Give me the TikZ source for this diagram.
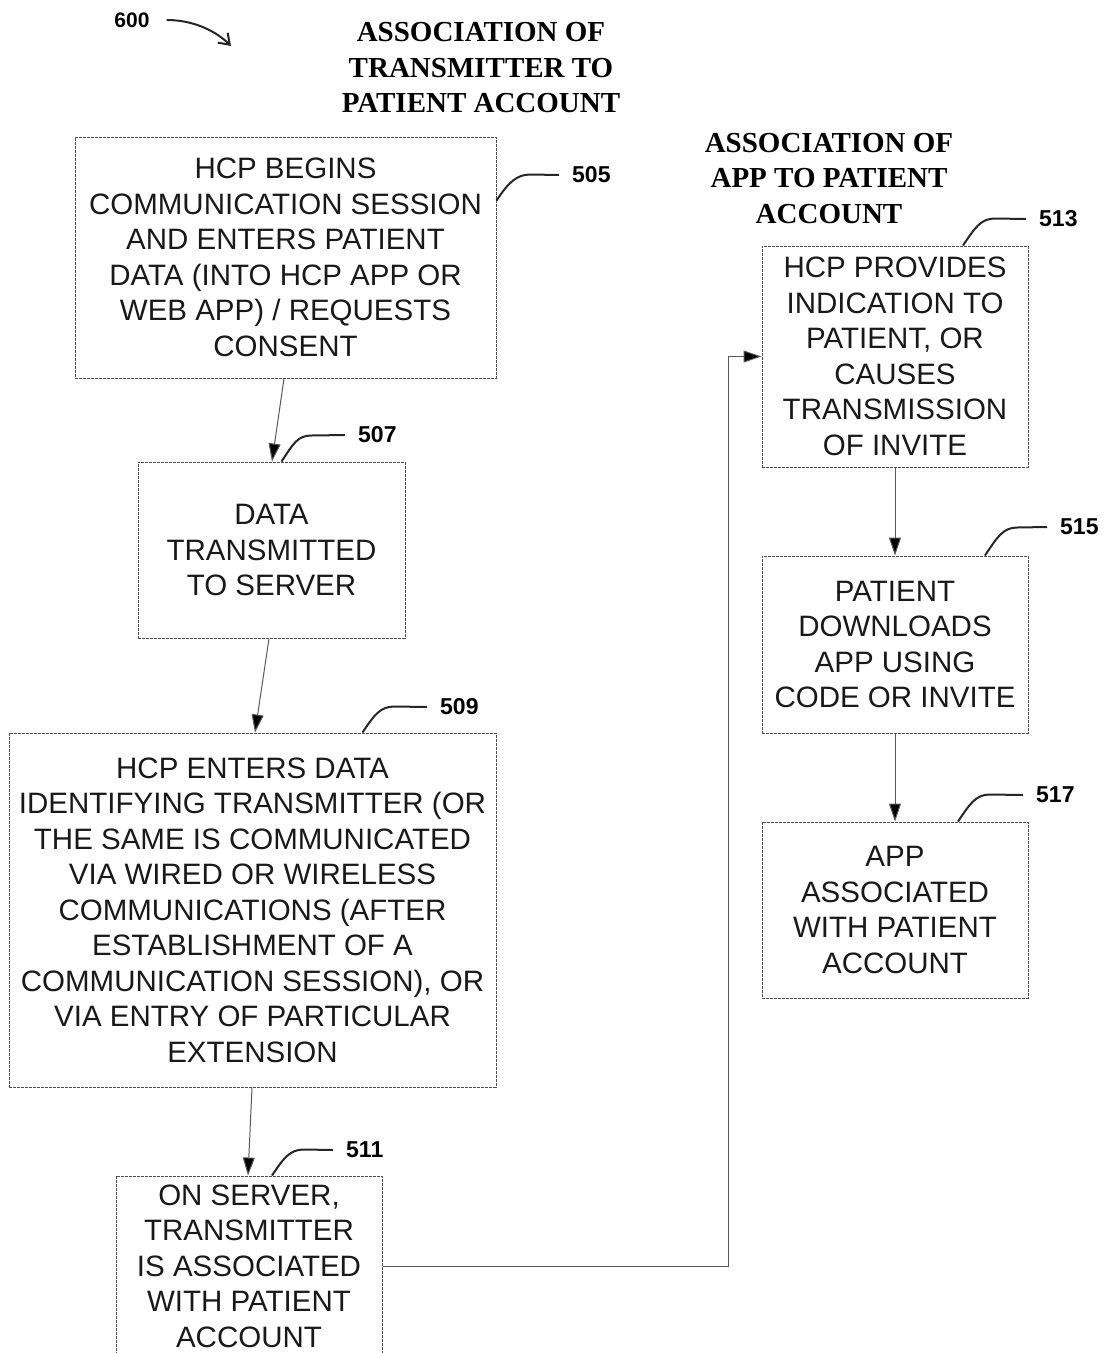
\documentclass[tikz,border=0pt]{standalone}
\usepackage{fontspec}
\setmainfont{Liberation Sans}
\newfontfamily\headfont{Liberation Serif}
\usetikzlibrary{arrows.meta,calc}

\begin{document}
\begin{tikzpicture}[x=1pt,y=-1pt,
  stepbox/.style={draw=black!70, line width=1pt, dash pattern=on 3pt off 1pt,
    inner sep=0pt, align=center, text=black!90, font=\fontsize{29.5}{35.5}\selectfont},
  flow/.style={draw=black!65, line width=1pt, -{Triangle[length=18pt,width=12pt,fill=black]}},
  leader/.style={line width=2pt, black!85},
  reflabel/.style={font=\bfseries\fontsize{23}{23}\selectfont, anchor=west, inner sep=0pt},
  heading/.style={font=\headfont\bfseries\fontsize{29}{35.5}\selectfont, align=center, inner sep=0pt}]
\useasboundingbox (0,0) rectangle (1107,1353);

% figure number
\node[font=\bfseries\fontsize{21}{21}\selectfont, inner sep=0pt] (fig) at (132,20) {600};
\coordinate (figtip) at (231,46);
\draw[line width=2pt, black!85, -{Straight Barb[length=10pt,width=14pt]}]
  ([xshift=17pt]fig.east) .. controls +(28,0) and +(-14,-14) .. (figtip);

% headings
\node[heading] (h1) at (481,68) {ASSOCIATION OF\\TRANSMITTER TO\\PATIENT ACCOUNT};
\node[heading] (h2) at (829,178.5) {ASSOCIATION OF\\APP TO PATIENT\\ACCOUNT};

% left column
\node[stepbox, minimum width=421, minimum height=241] (n505) at (285.5,257.5)
  {HCP BEGINS\\COMMUNICATION SESSION\\AND ENTERS PATIENT\\DATA (INTO HCP APP OR\\WEB APP) / REQUESTS\\CONSENT};
\node[stepbox, minimum width=267, minimum height=176] (n507) at (271.5,550)
  {DATA\\TRANSMITTED\\TO SERVER};
\node[stepbox, minimum width=487, minimum height=354] (n509) at (252.5,910)
  {HCP ENTERS DATA\\IDENTIFYING TRANSMITTER (OR\\THE SAME IS COMMUNICATED\\VIA WIRED OR WIRELESS\\COMMUNICATIONS (AFTER\\ESTABLISHMENT OF A\\COMMUNICATION SESSION), OR\\VIA ENTRY OF PARTICULAR\\EXTENSION};
\node[stepbox, minimum width=266, minimum height=180] (n511) at (249,1266)
  {ON SERVER,\\TRANSMITTER\\IS ASSOCIATED\\WITH PATIENT\\ACCOUNT};

% right column
\node[stepbox, minimum width=266, minimum height=221] (n513) at (895,356.5)
  {HCP PROVIDES\\INDICATION TO\\PATIENT, OR\\CAUSES\\TRANSMISSION\\OF INVITE};
\node[stepbox, minimum width=266, minimum height=177] (n515) at (895,644.5)
  {PATIENT\\DOWNLOADS\\APP USING\\CODE OR INVITE};
\node[stepbox, minimum width=266, minimum height=176] (n517) at (895,910)
  {APP\\ASSOCIATED\\WITH PATIENT\\ACCOUNT};

% flow connectors
\draw[flow] ([xshift=-1.5pt]n505.south) -- ([xshift=0.5pt]n507.north);
\draw[flow] ([xshift=-2.5pt]n507.south) -- ([xshift=2.5pt]n509.north);
\draw[flow] ([xshift=-0.5pt]n509.south) -- ([xshift=-1pt]n511.north);
\coordinate (turn) at (728,1266);
\draw[flow] (n511.east) -- (turn) |- (n513.west);
\draw[flow] (n513.south) -- (n515.north);
\draw[flow] (n515.south) -- (n517.north);

% reference numerals with leader lines
\node[reflabel] (l505) at (572,175) {505};
\node[reflabel] (l507) at (358,435) {507};
\node[reflabel] (l509) at (440,707) {509};
\node[reflabel] (l511) at (346,1150) {511};
\node[reflabel] (l513) at (1039,219) {513};
\node[reflabel] (l515) at (1060,527) {515};
\node[reflabel] (l517) at (1036,795) {517};

\draw[leader] ($(n505.north east)+(0,64)$) .. controls +(12,-18) and +(-14,0) .. ++(34,-26) -- ([xshift=-13pt]l505.west);
\draw[leader] ($(n507.north)+(10,0)$) .. controls +(12,-18) and +(-14,0) .. ++(30,-26) -- ([xshift=-13pt]l507.west);
\draw[leader] ($(n509.north)+(110,0)$) .. controls +(12,-18) and +(-14,0) .. ++(32,-26) -- ([xshift=-13pt]l509.west);
\draw[leader] ($(n511.north)+(23,0)$) .. controls +(12,-18) and +(-14,0) .. ++(32,-26) -- ([xshift=-13pt]l511.west);
\draw[leader] ($(n513.north)+(68,0)$) .. controls +(12,-18) and +(-14,0) .. ++(32,-27) -- ([xshift=-13pt]l513.west);
\draw[leader] ($(n515.north)+(90,0)$) .. controls +(12,-18) and +(-14,0) .. ++(32,-28) -- ([xshift=-13pt]l515.west);
\draw[leader] ($(n517.north)+(63,0)$) .. controls +(12,-18) and +(-14,0) .. ++(32,-27) -- ([xshift=-13pt]l517.west);
\end{tikzpicture}
\end{document}
